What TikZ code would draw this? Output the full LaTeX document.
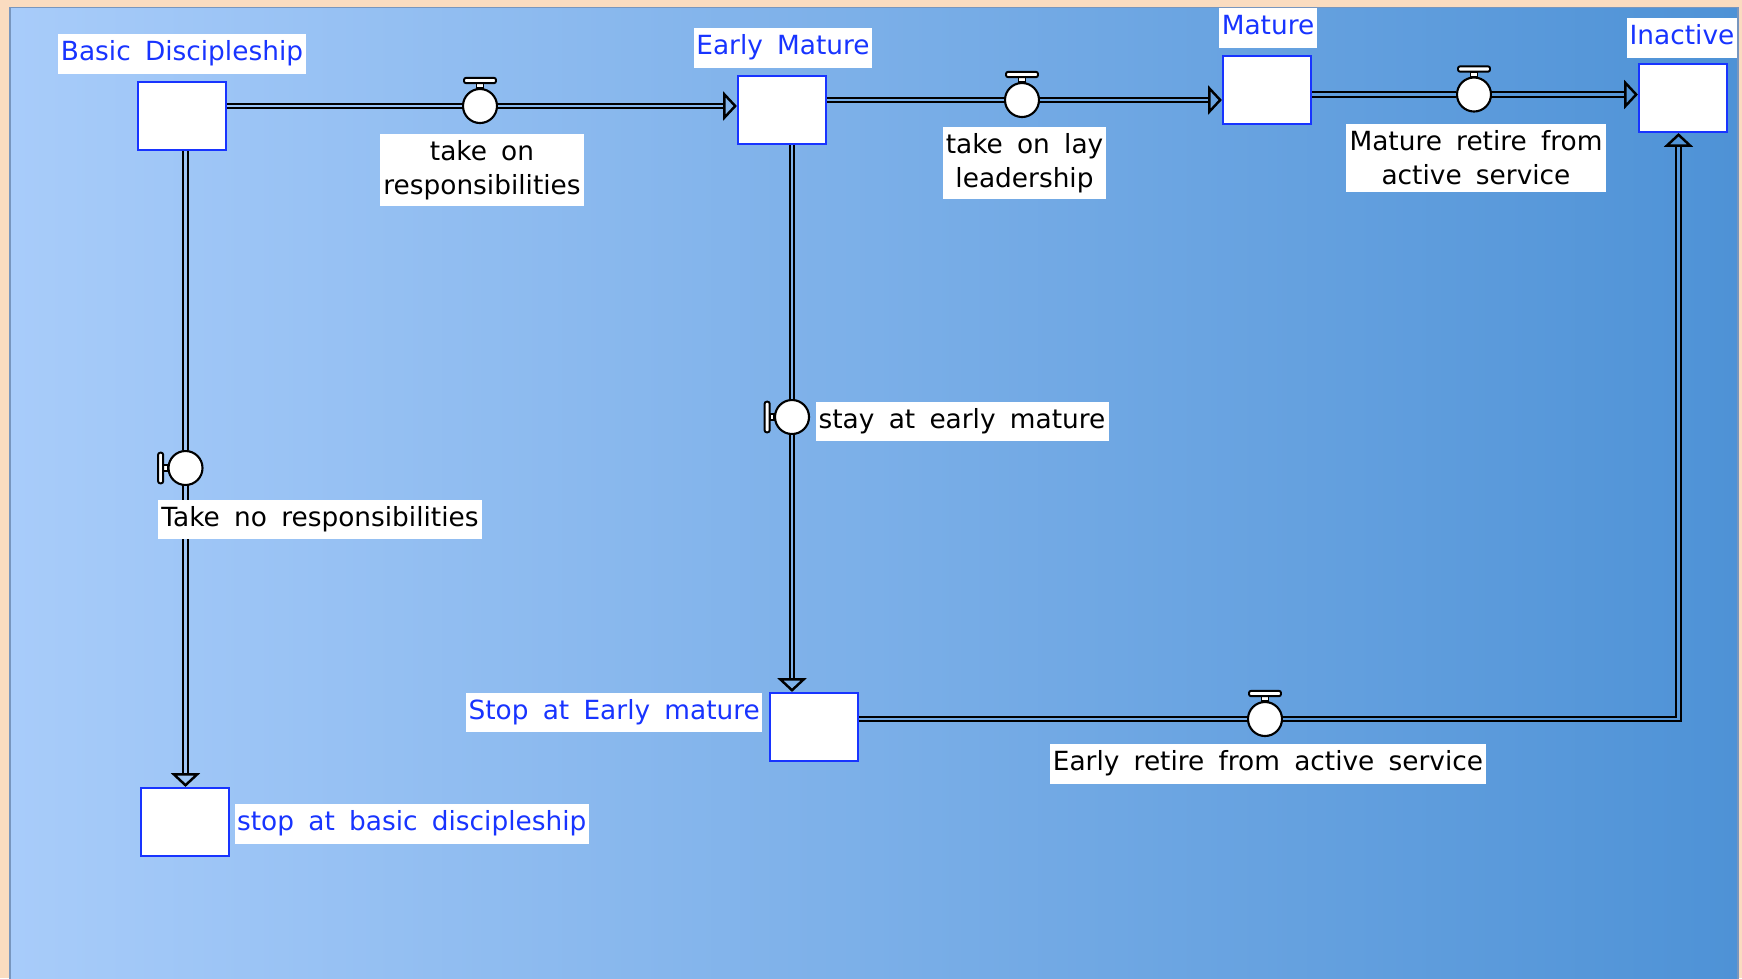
\documentclass[tikz,border=0pt]{standalone}
\usepackage{fontspec}
\setmainfont{DejaVu Sans}[WordSpace=1.7]
\usetikzlibrary{arrows.meta,calc}
\definecolor{peach}{RGB}{250,220,192}
\definecolor{bgL}{RGB}{168,204,250}
\definecolor{bgR}{RGB}{78,146,214}
\definecolor{stockblue}{RGB}{24,52,255}
\definecolor{panelline}{RGB}{120,150,190}

\tikzset{
  stock/.style={draw=stockblue, line width=0.6pt, fill=white, minimum width=0.88cm, minimum height=0.68cm, inner sep=0pt},
  stocklabel/.style={fill=white, text=stockblue, inner xsep=0.7pt, inner ysep=1.8pt, text height=5.7pt, text depth=1.8pt},
  flowlabel/.style={fill=white, text=black, inner xsep=0.9pt, inner ysep=1.8pt, align=center},
  onelabel/.style={flowlabel, text height=5.7pt, text depth=1.8pt},
  valve/.style={circle, draw, line width=0.6pt, fill=white, minimum size=0.34cm, inner sep=0pt},
  handle/.style={draw, line width=0.55pt, fill=white},
  pipe/.style={draw=black, line width=0.5pt, double=#1, double distance=0.75pt},
  flowtip/.style={line width=0.5pt, -{Triangle[open, length=3.9pt, width=8.2pt, line width=0.7pt]}}
}

\begin{document}
\begin{tikzpicture}[x=0.01cm, y=-0.01cm, font=\fontsize{7.5}{9.7}\selectfont]
  \useasboundingbox (0,0) rectangle (1742,978);
  % background panel
  \fill[peach] (0,0) rectangle (1742,978);
  \shade[left color=bgL, right color=bgR] (10,7.5) rectangle (1738,980);
  \draw[panelline, line width=0.3pt] (10,980) -- (10,7.5) -- (1738,7.5) -- (1738,980);

  % stocks
  \node[stock] (basic) at (182,116) {};
  \node[stock] (early) at (782,110) {};
  \node[stock] (mature) at (1267,90) {};
  \node[stock] (inactive) at (1683,98) {};
  \node[stock] (stopbasic) at (185,822) {};
  \node[stock] (stopearly) at (814,727) {};

  % valves
  \node[valve] (v1) at (480,106) {};
  \node[valve] (v2) at (1022,100) {};
  \node[valve] (v3) at (1474,94.5) {};
  \node[valve] (v4) at (185.5,468) {};
  \node[valve] (v5) at (792,417) {};
  \node[valve] (v6) at (1265,719) {};
  \coordinate (corner) at (1678.5,719);

  % flows
  \draw[pipe=bgR!15!bgL] (basic.east |- v1) -- (v1.west);
  \draw[flowtip] (v1.east) -- (v1 -| early.west);
  \draw[pipe=bgR!35!bgL, shorten >=3.9pt] (v1.east) -- (v1 -| early.west);

  \draw[pipe=bgR!55!bgL] (early.east |- v2) -- (v2.west);
  \draw[flowtip] (v2.east) -- (v2 -| mature.west);
  \draw[pipe=bgR!65!bgL, shorten >=3.9pt] (v2.east) -- (v2 -| mature.west);

  \draw[pipe=bgR!80!bgL] (mature.east |- v3) -- (v3.west);
  \draw[flowtip] (v3.east) -- (v3 -| inactive.west);
  \draw[pipe=bgR!90!bgL, shorten >=3.9pt] (v3.east) -- (v3 -| inactive.west);

  \draw[pipe=bgR!10!bgL] (basic.south -| v4) -- (v4.north);
  \draw[flowtip] (v4.south) -- (v4 |- stopbasic.north);
  \draw[pipe=bgR!10!bgL, shorten >=3.9pt] (v4.south) -- (v4 |- stopbasic.north);

  \draw[pipe=bgR!45!bgL] (early.south -| v5) -- (v5.north);
  \draw[flowtip] (v5.south) -- (v5 |- stopearly.north);
  \draw[pipe=bgR!45!bgL, shorten >=3.9pt] (v5.south) -- (v5 |- stopearly.north);

  \draw[pipe=bgR!60!bgL] (stopearly.east |- v6) -- (v6.west);
  \draw[flowtip] (v6.east) -- (corner) -- (corner |- inactive.south);
  \draw[pipe=bgR!90!bgL, shorten >=3.9pt] (v6.east) -- (corner) -- (corner |- inactive.south);

  % valve handles
  \foreach \v in {v1,v2,v3,v6} {
    \draw[handle] ([shift={(-3.5,-17.8)}]\v.center) rectangle ([shift={(3.5,-22.8)}]\v.center);
    \draw[handle, rounded corners=0.6pt] ([shift={(-16,-22.8)}]\v.center) rectangle ([shift={(16,-28.2)}]\v.center);
  }
  \foreach \v in {v4,v5} {
    \draw[handle] ([shift={(-17.8,-2.8)}]\v.center) rectangle ([shift={(-22.3,2.8)}]\v.center);
    \draw[handle, rounded corners=0.6pt] ([shift={(-22.3,-15.3)}]\v.center) rectangle ([shift={(-27.4,15.3)}]\v.center);
  }

  % stock labels
  \node[stocklabel] (basiclbl) at (182,54) {Basic Discipleship};
  \node[stocklabel] (earlylbl) at (783,48) {Early Mature};
  \node[stocklabel] (maturelbl) at (1268,28) {Mature};
  \node[stocklabel] (inactivelbl) at (1682,38) {Inactive};
  \node[stocklabel, anchor=west] (stopbasiclbl) at (234,824) {stop at basic discipleship};
  \node[stocklabel, anchor=east] (stopearlylbl) at (763,712.5) {Stop at Early mature};

  % flow labels
  \node[flowlabel] (takeonlbl) at (482,170) {take on\\responsibilities};
  \node[flowlabel] (laylbl) at (1024.5,163) {take on lay\\leadership};
  \node[flowlabel] (retirelbl) at (1476,158) {Mature retire from\\active service};
  \node[onelabel] (nonelbl) at (320,519.5) {Take no responsibilities};
  \node[onelabel] (staylbl) at (962,421.7) {stay at early mature};
  \node[onelabel] (earlyretlbl) at (1268,764) {Early retire from active service};
\end{tikzpicture}
\end{document}
